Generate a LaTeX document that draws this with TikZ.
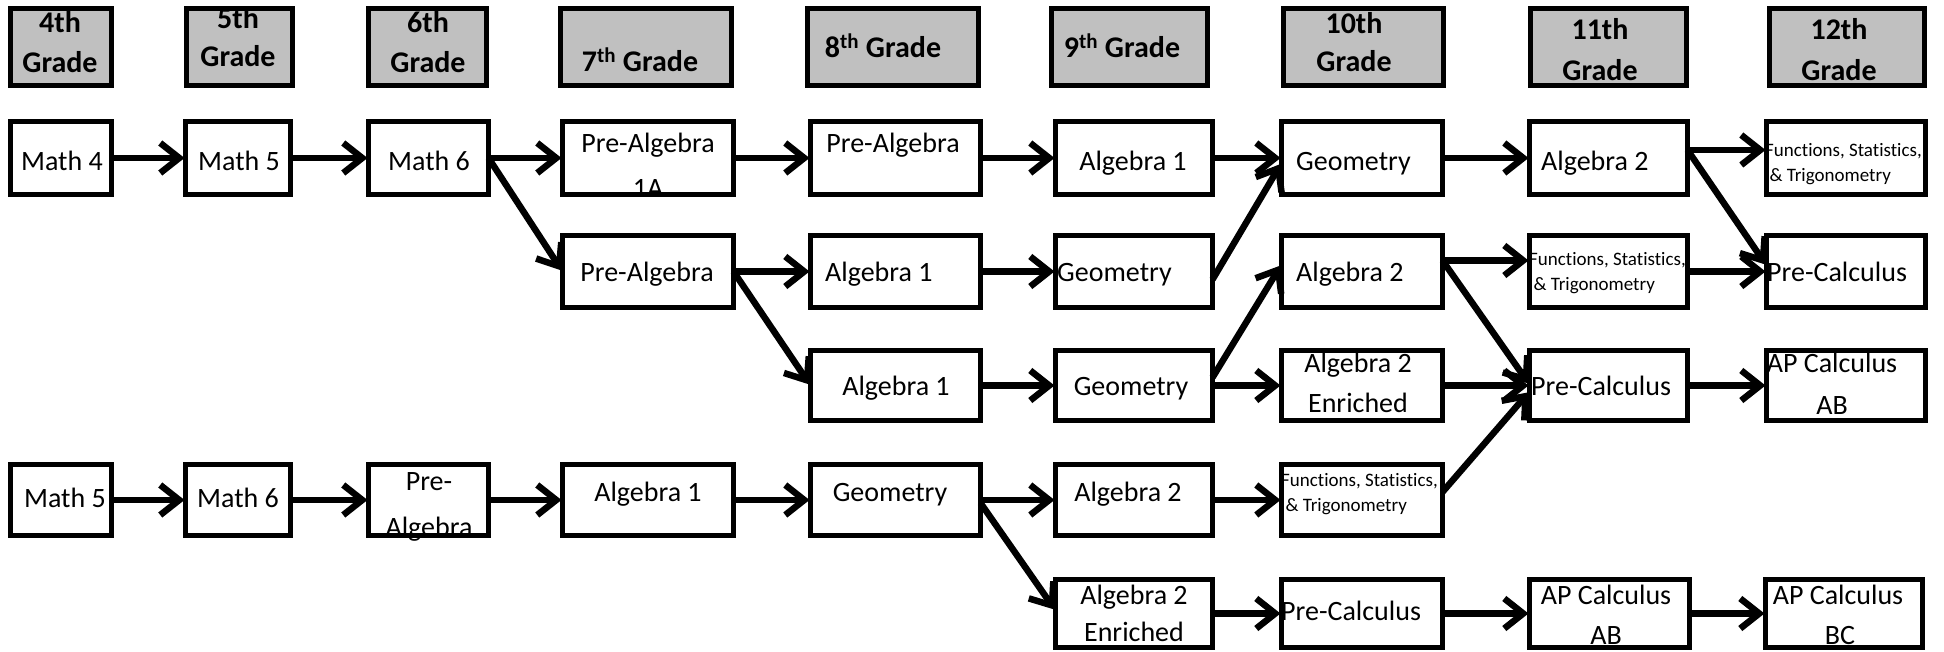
\documentclass[tikz,border=0pt]{standalone}
\usepackage{fontspec}
\setmainfont{Carlito}[Ligatures={NoCommon}]
\usetikzlibrary{arrows.meta,calc}
\definecolor{hdgray}{RGB}{192,192,192}
\newcounter{tn}
\newcommand\mybox[6]{\node[#1, minimum width={#5-#3-5}, minimum height={#6-#4-5}] (#2) at ({(#3+#5)/2},{(#4+#6)/2}) {};}
\newcommand\tl[4][]{\stepcounter{tn}\node[txt,#1] (t\thetn) at (#2,#3) {#4};}
\begin{document}
\begin{tikzpicture}[x=1pt,y=-1pt,
  bx/.style={inner sep=0pt, outer sep=0pt, fill=white, draw=none},
  hd/.style={bx, fill=hdgray},
  bline/.style={line width=5pt, line join=miter},
  txt/.style={inner sep=0pt, anchor=base, font=\fontsize{28}{34}\selectfont},
  lft/.style={anchor=base west},
  sm/.style={font=\fontsize{19}{23}\selectfont},
  hdt/.style={font=\bfseries\fontsize{30}{36}\selectfont},
  arr/.style={line width=6.5pt, -{Straight Barb[length=19pt,width=30pt]}, shorten >=1pt}]
\useasboundingbox (0,0) rectangle (1944,652);
\fill[white] (0,0) rectangle (1944,652);
% headers
\mybox{hd}{h1}{8}{6}{114}{88}
\mybox{hd}{h2}{184}{6}{295}{88}
\mybox{hd}{h3}{366}{6}{489}{88}
\mybox{hd}{h4}{558}{6}{734}{88}
\mybox{hd}{h5}{805}{6}{981}{88}
\mybox{hd}{h6}{1049}{6}{1210}{88}
\mybox{hd}{h7}{1281}{6}{1446}{88}
\mybox{hd}{h8}{1528}{6}{1689}{88}
\mybox{hd}{h9}{1767}{6}{1927}{88}
% row 1
\mybox{bx}{a1}{8}{119}{114}{197}
\mybox{bx}{a2}{183}{119}{293}{197}
\mybox{bx}{a3}{366}{119}{491}{197}
\mybox{bx}{a4}{560}{119}{736}{197}
\mybox{bx}{a5}{808}{119}{983}{197}
\mybox{bx}{a6}{1053}{119}{1215}{197}
\mybox{bx}{a7}{1279}{119}{1445}{197}
\mybox{bx}{a8}{1527}{119}{1690}{197}
\mybox{bx}{a9}{1764}{119}{1928}{197}
% row 2
\mybox{bx}{b4}{560}{233}{736}{310}
\mybox{bx}{b5}{808}{233}{983}{310}
\mybox{bx}{b6}{1053}{233}{1215}{310}
\mybox{bx}{b7}{1279}{233}{1445}{310}
\mybox{bx}{b8}{1527}{233}{1690}{310}
\mybox{bx}{b9}{1764}{233}{1928}{310}
% row 3
\mybox{bx}{c5}{808}{348}{983}{423}
\mybox{bx}{c6}{1053}{348}{1215}{423}
\mybox{bx}{c7}{1279}{348}{1445}{423}
\mybox{bx}{c8}{1527}{348}{1690}{423}
\mybox{bx}{c9}{1764}{348}{1928}{423}
% row 4
\mybox{bx}{d1}{8}{462}{114}{538}
\mybox{bx}{d2}{183}{462}{293}{538}
\mybox{bx}{d3}{366}{462}{491}{538}
\mybox{bx}{d4}{560}{462}{736}{538}
\mybox{bx}{d5}{808}{462}{983}{538}
\mybox{bx}{d6}{1053}{462}{1215}{538}
\mybox{bx}{d7}{1279}{462}{1445}{538}
% row 5
\mybox{bx}{e6}{1053}{577}{1215}{650}
\mybox{bx}{e7}{1279}{577}{1445}{650}
\mybox{bx}{e8}{1527}{577}{1692}{650}
\mybox{bx}{e9}{1763}{577}{1925}{650}
% header texts
\tl[hdt]{60}{33}{4th}\tl[hdt]{60}{73}{Grade}
\tl[hdt]{238}{29}{5th}\tl[hdt]{238}{67}{Grade}
\tl[hdt]{428}{33}{6th}\tl[hdt]{428}{73}{Grade}
\tl[hdt]{640}{72}{7\textsuperscript{th} Grade}
\tl[hdt]{883}{58}{8\textsuperscript{th} Grade}
\tl[hdt]{1122}{58}{9\textsuperscript{th} Grade}
\tl[hdt]{1354}{34}{10th}\tl[hdt]{1354}{72}{Grade}
\tl[hdt]{1600}{40}{11th}\tl[hdt]{1600}{81}{Grade}
\tl[hdt]{1839}{40}{12th}\tl[hdt]{1839}{81}{Grade}
% row 1 texts
\tl{62}{171}{Math 4}
\tl{239}{171}{Math 5}
\tl{429}{171}{Math 6}
\tl{648}{153}{Pre-Algebra}\tl{648}{198}{1A}
\tl{893}{153}{Pre-Algebra}
\tl{1133}{171}{Algebra 1}
\tl[lft]{1296}{171}{Geometry}
\tl[lft]{1541}{171}{Algebra 2}
\tl[lft,sm]{1765}{157}{Functions, Statistics,}\tl[lft,sm]{1765}{182}{\ \& Trigonometry}
% row 2 texts
\tl{647}{282}{Pre-Algebra}
\tl[lft]{825}{282}{Algebra 1}
\tl[lft]{1057}{282}{Geometry}
\tl[lft]{1296}{282}{Algebra 2}
\tl[lft,sm]{1529}{266}{Functions, Statistics,}\tl[lft,sm]{1529}{291}{\ \& Trigonometry}
\tl[lft]{1767}{282}{Pre-Calculus}
% row 3 texts
\tl{896}{395}{Algebra 1}
\tl{1131}{395}{Geometry}
\tl{1358}{372}{Algebra 2}\tl{1358}{412}{Enriched}
\tl[lft]{1531}{395}{Pre-Calculus}
\tl{1832}{372}{AP Calculus}\tl{1832}{414}{AB}
% row 4 texts
\tl{65}{507}{Math 5}
\tl{238}{507}{Math 6}
\tl{429}{490}{Pre-}\tl{429}{536}{Algebra}
\tl{648}{501}{Algebra 1}
\tl{890}{501}{Geometry}
\tl{1128}{501}{Algebra 2}
\tl[lft,sm]{1281}{486}{Functions, Statistics,}\tl[lft,sm]{1281}{511}{\ \& Trigonometry}
% row 5 texts
\tl{1134}{604}{Algebra 2}\tl{1134}{641}{Enriched}
\tl[lft]{1281}{620}{Pre-Calculus}
\tl{1606}{604}{AP Calculus}\tl{1606}{644}{AB}
\tl{1838}{604}{AP Calculus}\tl{1840}{644}{BC}
% borders
\foreach \n in {h1,h2,h3,h4,h5,h6,h7,h8,h9,a1,a2,a3,a4,a5,a6,a7,a8,a9,b4,b5,b6,b7,b8,b9,c5,c6,c7,c8,c9,d1,d2,d3,d4,d5,d6,d7,e6,e7,e8,e9}
  \draw[bline] (\n.south west) rectangle (\n.north east);
% connectors
\draw[arr] (a1.east) -- (a2.west);
\draw[arr] (a2.east) -- (a3.west);
\draw[arr] (a3.east) -- (a4.west);
\draw[arr] (a3.east) -- (b4.west);
\draw[arr] (a4.east) -- (a5.west);
\draw[arr] (a5.east) -- (a6.west);
\draw[arr] (a6.east) -- (a7.west);
\draw[arr] ($(b6.east)+(0,8)$) -- ($(a7.west)+(0,5)$);
\draw[arr] (a7.east) -- (a8.west);
\draw[arr] ($(a8.east)+(0,-8)$) -- ($(a9.west)+(0,-8)$);
\draw[arr] ($(a8.east)+(0,-8)$) -- ($(b9.west)+(0,-6)$);
\draw[arr] (b4.east) -- (b5.west);
\draw[arr] (b4.east) -- (c5.west);
\draw[arr] (b5.east) -- (b6.west);
\draw[arr] ($(b7.east)+(0,-11)$) -- ($(b8.west)+(0,-11)$);
\draw[arr] ($(b7.east)+(0,-11)$) -- ($(c8.west)+(0,-1)$);
\draw[arr] (b8.east) -- (b9.west);
\draw[arr] (c5.east) -- (c6.west);
\draw[arr] ($(c6.east)+(0,-8)$) -- ($(b7.west)+(0,-7)$);
\draw[arr] (c6.east) -- (c7.west);
\draw[arr] (c7.east) -- (c8.west);
\draw[arr] ($(d7.east)+(0,-8)$) -- ($(c8.west)+(0,6)$);
\draw[arr] (c8.east) -- (c9.west);
\draw[arr] (d1.east) -- (d2.west);
\draw[arr] (d2.east) -- (d3.west);
\draw[arr] (d3.east) -- (d4.west);
\draw[arr] (d4.east) -- (d5.west);
\draw[arr] (d5.east) -- (d6.west);
\draw[arr] ($(d5.east)+(0,3)$) -- ($(e6.west)+(0,-3)$);
\draw[arr] (d6.east) -- (d7.west);
\draw[arr] (e6.east) -- (e7.west);
\draw[arr] (e7.east) -- (e8.west);
\draw[arr] (e8.east) -- (e9.west);
\end{tikzpicture}
\end{document}
